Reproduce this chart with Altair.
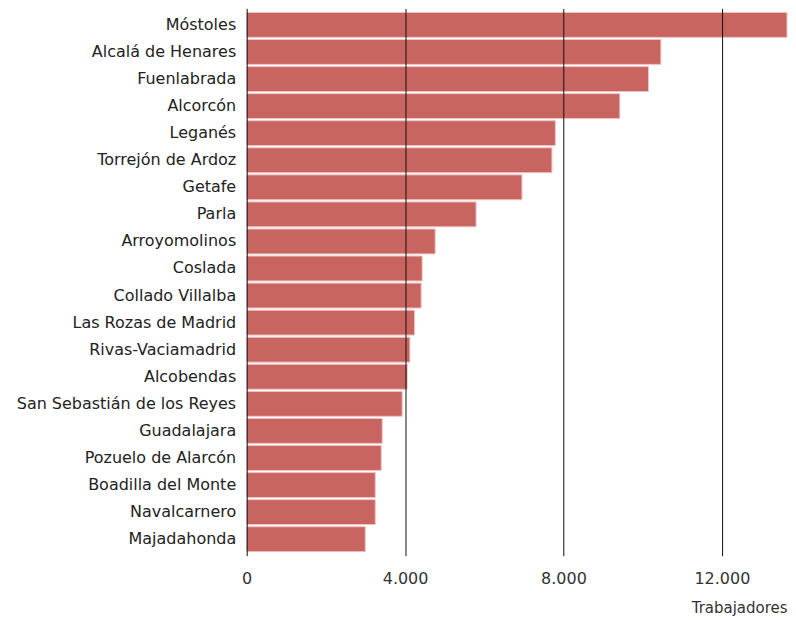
import altair as alt
import pandas as pd

municipios = [
    "Móstoles", "Alcalá de Henares", "Fuenlabrada", "Alcorcón", "Leganés",
    "Torrejón de Ardoz", "Getafe", "Parla", "Arroyomolinos", "Coslada",
    "Collado Villalba", "Las Rozas de Madrid", "Rivas-Vaciamadrid", "Alcobendas",
    "San Sebastián de los Reyes", "Guadalajara", "Pozuelo de Alarcón",
    "Boadilla del Monte", "Navalcarnero", "Majadahonda",
]
trabajadores = [
    13645, 10460, 10147, 9423, 7795,
    7709, 6952, 5793, 4760, 4432,
    4406, 4240, 4122, 4053,
    3927, 3423, 3398,
    3247, 3247, 2995,
]
ticks = [0, 4000, 8000, 12000]

df = pd.DataFrame({"municipio": municipios, "trabajadores": trabajadores})

FONT = "DejaVu Sans"

chart = alt.Chart(df).mark_bar(
    color="#c96561", stroke="#f0c4c2", strokeWidth=1
).encode(
    x=alt.X(
        "trabajadores:Q",
        scale=alt.Scale(domain=[0, max(trabajadores)], nice=False),
        axis=alt.Axis(
            title="Trabajadores",
            values=ticks,
            labelExpr="replace(format(datum.value, ','), ',', '.')",
            grid=True, gridColor="#111111", gridOpacity=1, gridWidth=1,
            domain=False, ticks=False, zindex=1, labelFlush=False,
            labelFont=FONT, labelFontSize=16, labelColor="#333333",
            labelPadding=15,
            titleFont=FONT, titleFontSize=15, titleFontWeight="normal",
            titleColor="#333333", titleAnchor="end", titleAlign="right",
            titlePadding=14,
        ),
    ),
    y=alt.Y(
        "municipio:N",
        sort=None,
        scale=alt.Scale(paddingInner=0.08, paddingOuter=0.15),
        axis=alt.Axis(
            title=None, domain=False, ticks=False, grid=False,
            labelFont=FONT, labelFontSize=16, labelColor="#222222",
            labelPadding=11, labelLimit=400, minExtent=234,
        ),
    ),
).properties(
    width=541, height=548,
    padding={"left": 5, "top": 0, "right": 0, "bottom": 0},
).configure_view(stroke=None)

chart.save("out.html", embed_options={"renderer": "svg", "actions": False})
